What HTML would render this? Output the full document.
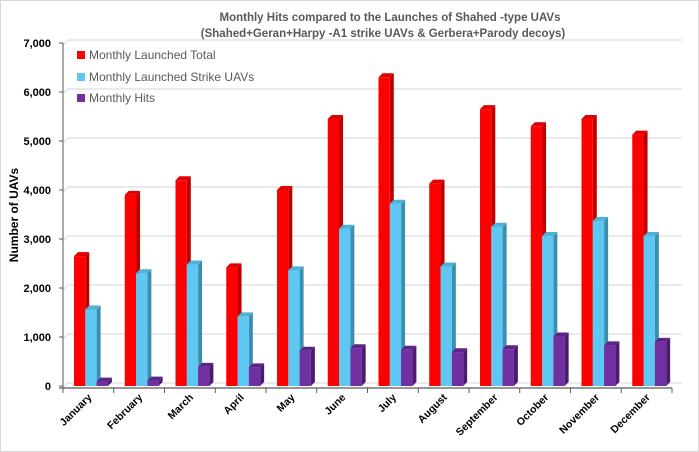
<!DOCTYPE html>
<html><head><meta charset="utf-8"><style>
body{margin:0;background:#fff;}
svg{display:block;font-family:"Liberation Sans",sans-serif;}
</style></head><body>
<svg id="chart" width="699" height="452" viewBox="0 0 699 452">
<rect x="0.5" y="0.5" width="698" height="451" fill="#fff" stroke="#d9d9d9"/>
<text x="390" y="21" text-anchor="middle" font-size="11.5" font-weight="bold" fill="#595959">Monthly Hits compared to the Launches of Shahed  -type UAVs</text>
<text x="383" y="37" text-anchor="middle" font-size="11.5" font-weight="bold" fill="#595959">(Shahed+Geran+Harpy -A1 strike UAVs &amp; Gerbera+Parody decoys)</text>
<text transform="translate(18,215) rotate(-90)" text-anchor="middle" font-size="12" font-weight="bold" fill="#000">Number of UAVs</text>
<g id="grid"></g><g id="bars"></g><g id="axes"></g>
<g>
<rect x="77" y="51" width="8" height="8" fill="#ff0000"/>
<text x="89" y="59" font-size="12" fill="#595959">Monthly Launched Total</text>
<rect x="77" y="73" width="8" height="8" fill="#5ec8f2"/>
<text x="89" y="81" font-size="12" fill="#595959">Monthly Launched Strike UAVs</text>
<rect x="77" y="94" width="8" height="8" fill="#7030a0"/>
<text x="89" y="102" font-size="12" fill="#595959">Monthly Hits</text>
</g>
</svg>
<script>
const months=["January","February","March","April","May","June","July","August","September","October","November","December"];
const totalLaunched=[2650,3900,4200,2420,4000,5450,6300,4130,5650,5300,5450,5130];
const strikeLaunched=[1560,2300,2480,1420,2360,3210,3720,2440,3250,3060,3370,3060];
const hits=[90,110,390,380,720,770,740,690,750,1010,830,900];
const yTicks=[0,1000,2000,3000,4000,5000,6000,7000];
const yTickLabels=["0","1,000","2,000","3,000","4,000","5,000","6,000","7,000"];
const NS="http://www.w3.org/2000/svg";
const x0=63,x1=672,y0=386,pxPer=49/1000;
const band=(x1-x0)/months.length;
function yS(v){return y0-v*pxPer;}
function xS(i){return x0+i*band;}
function mk(t,a,p){const e=document.createElementNS(NS,t);for(const k in a)e.setAttribute(k,a[k]);p.appendChild(e);return e;}
const grid=document.getElementById('grid'),bars=document.getElementById('bars'),axes=document.getElementById('axes');
yTicks.forEach((v,i)=>{
 const y=yS(v);
 const g=mk('polyline',{points:`${x0},${y+2} ${x0+5},${y-3} 682,${y-3}`,fill:'none',stroke:'#e3e3e3','stroke-width':1.5},grid);
 
 
 const t=mk('text',{x:51,y:y+4,'text-anchor':'end','font-size':11,'font-weight':'bold',fill:'#000'},axes);
 t.textContent=yTickLabels[i];
 
 
 const tk=mk('line',{x1:x0-4,x2:x0,y1:y,y2:y,stroke:'#595959'},axes);
 
 
});
const yl=mk('line',{x1:x0,x2:x0,y1:yS(7000),y2:y0+2,stroke:'#595959'},axes);


const xl=mk('line',{x1:x0-4,x2:x1,y1:y0+2,y2:y0+2,stroke:'#595959','stroke-width':1.2},axes);


const series=[[totalLaunched,'#ff0000','#c00000','#e00000','bar-total'],[strikeLaunched,'#5ec8f2','#3a8fb0','#4fb0d8','bar-strike'],[hits,'#7030a0','#4a1c70','#5c2488','bar-hits']];
const bw=11.3,d=4;
months.forEach((m,i)=>{
 const bx=xS(i)+11;
 series.forEach((s,j)=>{
  const v=s[0][i],x=bx+j*bw,y=yS(v);
  const g=mk('g',{},bars);
  
  
  mk('polygon',{points:`${x+bw},${y} ${x+bw+d},${y-d} ${x+bw+d},${y0-d} ${x+bw},${y0}`,fill:s[2]},g);
  mk('polygon',{points:`${x},${y} ${x+d},${y-d} ${x+bw+d},${y-d} ${x+bw},${y}`,fill:s[3]},g);
  mk('rect',{x:x,y:y,width:bw,height:y0-y,fill:s[1]},g);
 });
 const tk=mk('line',{x1:xS(i+1),x2:xS(i+1),y1:y0+2,y2:y0+7,stroke:'#595959'},axes);
 
 
 const cx=xS(i)+band/2+4;
 const t=mk('text',{transform:`translate(${cx},${y0+12}) rotate(-45)`,'text-anchor':'end','font-size':10.5,'font-weight':'bold',fill:'#000'},axes);
 t.textContent=m;
 
 
});
const x0t=mk('line',{x1:x0,x2:x0,y1:y0+2,y2:y0+7,stroke:'#595959'},axes);


</script>
</body></html>
